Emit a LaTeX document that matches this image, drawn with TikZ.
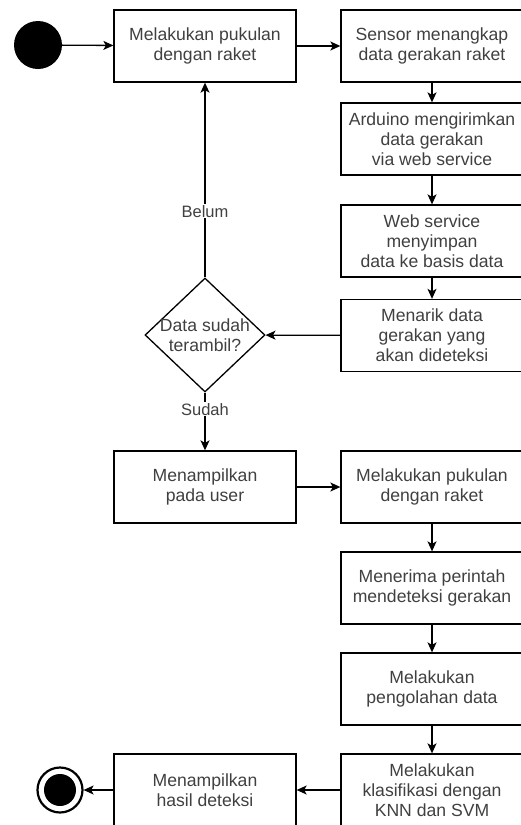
\documentclass[tikz,border=0pt]{standalone}
\usepackage{fontspec}
\setmainfont{Liberation Sans}
\usepackage{xcolor}
\usepackage{tikz}
\usetikzlibrary{shapes,arrows,positioning,calc,arrows.meta}

\begin{document}
\begin{tikzpicture}[x=1pt,y=-1pt,
    box/.style={draw,line width=1.3pt,minimum width=182pt,minimum height=72pt,align=center,
        text=black!75,font=\fontsize{17.6}{20}\selectfont},
    decision/.style={draw,diamond,line width=1.3pt,minimum width=120pt,minimum height=114pt,inner sep=0pt},
    guard/.style={fill=white,text=black!75,inner sep=1pt,font=\fontsize{16.5}{19}\selectfont},
    flow/.style={line width=1.3pt,-{Stealth[length=10pt,width=9pt,inset=2.5pt]}}]
    \useasboundingbox (0,0) rectangle (520,825);

    \node[circle,fill=black,minimum size=48pt,inner sep=0pt] (start) at (38,45) {};
    \node[box] (pukul) at (205,46) {Melakukan pukulan\\dengan raket};
    \node[box] (sensor) at (432,46) {Sensor menangkap\\data gerakan raket};
    \node[box] (kirim) at (432,139) {Arduino mengirimkan\\data gerakan\\via web service};
    \node[box] (simpan) at (432,241) {Web service\\menyimpan\\data ke basis data};
    \node[box] (tarik) at (432,335.5) {Menarik data\\gerakan yang\\akan dideteksi};
    \node[decision] (cek) at (205,335) {};
    \node[align=center,text=black!75,font=\fontsize{17.6}{20}\selectfont] (cektext) at (cek) {Data sudah\\terambil?};
    \node[box] (tampil) at (205,487) {Menampilkan\\pada user};
    \node[box] (pukul2) at (432,487) {Melakukan pukulan\\dengan raket};
    \node[box] (terima) at (432,588) {Menerima perintah\\mendeteksi gerakan};
    \node[box] (olah) at (432,689) {Melakukan\\pengolahan data};
    \node[box] (klasifikasi) at (432,790) {Melakukan\\klasifikasi dengan\\KNN dan SVM};
    \node[box] (hasil) at (205,790) {Menampilkan\\hasil deteksi};
    \node[circle,draw,line width=2.2pt,minimum size=45pt,inner sep=0pt] (end) at (60,790) {};
    \fill (end) circle (16);

    \draw[flow] (start) -- (pukul);
    \draw[flow] (pukul) -- (sensor);
    \draw[flow] (sensor) -- (kirim);
    \draw[flow] (kirim) -- (simpan);
    \draw[flow] (simpan) -- (tarik);
    \draw[flow] (tarik) -- (cek);
    \draw[flow] (cek.north) -- node[guard,pos=0.34] (belum) {Belum} (pukul.south);
    \draw[flow] (cek.south) -- node[guard,pos=0.29] (sudah) {Sudah} (tampil.north);
    \draw[flow] (tampil) -- (pukul2);
    \draw[flow] (pukul2) -- (terima);
    \draw[flow] (terima) -- (olah);
    \draw[flow] (olah) -- (klasifikasi);
    \draw[flow] (klasifikasi) -- (hasil);
    \draw[flow] (hasil) -- (end);
\end{tikzpicture}
\end{document}
